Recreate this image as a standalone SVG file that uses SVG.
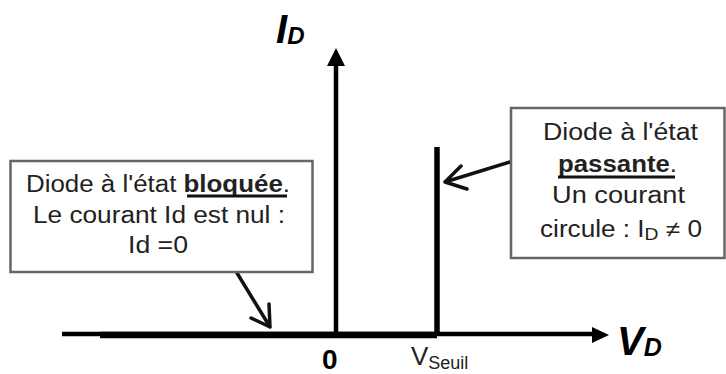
<svg xmlns="http://www.w3.org/2000/svg" width="726" height="374" viewBox="0 0 726 374">
<defs>
<style>
.box{fill:#fff;stroke:#666;stroke-width:2.5}
.t{font-family:"Liberation Sans",Arial,sans-serif;font-size:23px;fill:#222}
.b{font-weight:bold}
.ax{stroke:#000;fill:none}
.lbl{font-family:"Liberation Sans",Arial,sans-serif;font-weight:bold;font-style:italic;fill:#000}
.open{stroke:#111;stroke-width:3.5;fill:none;stroke-linecap:round;stroke-linejoin:round}
</style>
</defs>
<g id="connectors">
<line class="ax" x1="336" y1="334" x2="336" y2="62" stroke-width="4.5"/>
<polygon points="336,48 327,66 345,66" fill="#000"/>
<line class="ax" x1="62" y1="334" x2="596" y2="334" stroke-width="4.5"/>
<polygon points="609,335 592,327 592,343" fill="#000"/>
<line class="ax" x1="100" y1="335" x2="437" y2="335" stroke-width="6.5"/>
<line class="ax" x1="437" y1="147" x2="437" y2="336" stroke-width="5.5"/>
<path class="open" d="M510,162 L445,182 M461,166 L445,182 L467,189"/>
<path class="open" d="M237,273 L270,327 M251,318 L270,327 L269,304"/>
</g>
<g id="axis-labels">
<text class="lbl" x="276" y="43" font-size="40">I<tspan font-size="24" dy="1">D</tspan></text>
<text class="lbl" x="617" y="355" font-size="40">V<tspan font-size="25" dy="1">D</tspan></text>
<text x="322" y="369" font-family="Liberation Sans,Arial,sans-serif" font-weight="bold" font-size="28">0</text>
<text x="411" y="365" font-family="Liberation Sans,Arial,sans-serif" font-size="26" fill="#222">V<tspan font-size="18" dy="4">Seuil</tspan></text>
</g>
<g id="node-bloquee">
<rect class="box" x="10.5" y="161" width="302" height="111"/>
<text class="t" x="26" y="192" textLength="264" lengthAdjust="spacingAndGlyphs">Diode à l'état <tspan class="b">bloquée</tspan>.</text>
<line x1="187" y1="196" x2="287" y2="196" stroke="#111" stroke-width="3"/>
<text class="t" x="33" y="223" textLength="252" lengthAdjust="spacingAndGlyphs">Le courant Id est nul :</text>
<text class="t" x="128" y="253" textLength="60" lengthAdjust="spacingAndGlyphs">Id =0</text>
</g>
<g id="node-passante">
<rect class="box" x="511" y="108" width="213.5" height="150"/>
<text class="t" x="543" y="140" textLength="155" lengthAdjust="spacingAndGlyphs">Diode à l'état</text>
<text class="t" x="558" y="172" textLength="119" lengthAdjust="spacingAndGlyphs"><tspan class="b">passante</tspan>.</text>
<line x1="558" y1="177" x2="675" y2="177" stroke="#111" stroke-width="3"/>
<text class="t" x="552" y="203" textLength="133" lengthAdjust="spacingAndGlyphs">Un courant</text>
<text class="t" x="540" y="237" textLength="162" lengthAdjust="spacingAndGlyphs">circule : I<tspan font-size="17" dy="3">D</tspan><tspan dy="-3"> ≠ 0</tspan></text>
</g>
</svg>
